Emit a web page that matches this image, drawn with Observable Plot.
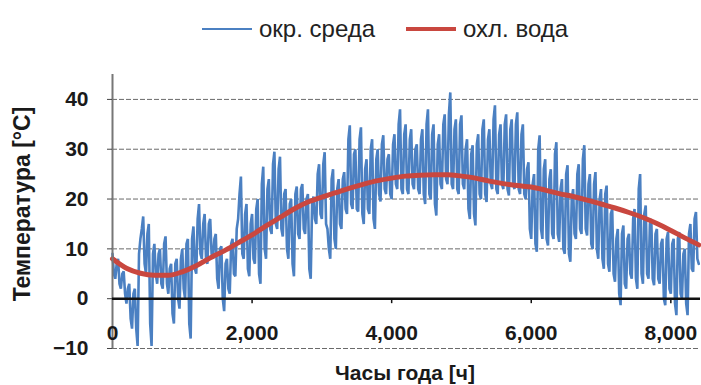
<!DOCTYPE html>
<html><head><meta charset="utf-8">
<script src="https://cdn.jsdelivr.net/npm/d3@7"></script>
<script src="https://cdn.jsdelivr.net/npm/@observablehq/plot@0.6"></script>
<style>
html,body{margin:0;padding:0;background:#fff;}
#wrap{position:relative;width:701px;height:385px;overflow:hidden;font-family:"Liberation Sans",Arial,sans-serif;color:#1a1a1a;}
#chart{position:absolute;left:0;top:0;}
.leg{position:absolute;top:14px;display:flex;align-items:center;font-family:"Liberation Sans",Arial,sans-serif;font-size:24px;line-height:30px;white-space:nowrap;color:#222;}
.sw{display:inline-block;margin-right:7px;}
.ytitle{position:absolute;left:22px;top:204px;transform:translate(-50%,-50%) rotate(-90deg);font-weight:bold;font-size:23px;white-space:nowrap;}
.xtitle{position:absolute;left:405px;top:373px;transform:translate(-50%,-50%);font-weight:bold;font-size:21px;white-space:nowrap;}
</style></head>
<body>
<div id="wrap">
  <div id="chart"></div>
  <div class="leg" id="leg1" style="left:202px"></div>
  <div class="leg" id="leg2" style="left:406px"></div>
  <div class="ytitle" id="ytitle"></div>
  <div class="xtitle" id="xtitle"></div>
</div>
<script>
// ---- data ----
const seriesNames = ["окр. среда", "охл. вода"];
const seriesColors = ["#4b80c2", "#c9473f"];
const yTitle = "Температура [°C]";
const xTitle = "Часы года [ч]";
const yTicks = [-10, 0, 10, 20, 30, 40];
const xTicks = [0, 2000, 4000, 6000, 8000];
const gridLines = [-10, 10, 20, 30, 40];
const ambientStep = 40; // hours between readings
// ambient temperature (окр. среда), read at 0, 40, 80, ... h
const ambientTemps = [
  9, 4, 8, 2, 5.5,
  -1, 3, -6, 2, -9.5,
  12, 16.5, 5, 15, -9.5,
  11, 3, 10, 2, 12.5,
  1, 7, -5, 8, -2,
  10, 0, 12, -8, 14.5,
  5, 19, 8, 17, 7,
  16, 8, 13, 2, 10.5,
  -2.5, 8, 1, 12, 4.5,
  16, 24.5, 8, 19, 4.5,
  17, 7, 20, 3, 26.5,
  8, 24, 13, 29.5, 14,
  28.5, 12.5, 22, 8, 20,
  4.5, 22.5, 12, 23, 13,
  21, 4, 20.5, 15, 27,
  16, 29.4, 14, 8, 26,
  10, 24, 14, 25.4, 17,
  34.8, 18, 30, 17.5, 34.4,
  15, 28, 17, 32, 14,
  30, 19.5, 32.8, 21, 29,
  20, 33, 22, 38, 21,
  35, 21, 34, 22, 31,
  21, 34, 19, 38, 20,
  35, 16.7, 33, 22, 37,
  23, 41.4, 22, 36, 21,
  36.8, 22, 32, 16, 30.8,
  14.7, 33, 20, 36, 19.4,
  34, 22, 38.8, 21, 35,
  22, 37, 20.7, 36, 22,
  37.4, 21, 35, 20, 27.4,
  12, 25, 9.4, 32.8, 12,
  28, 10.7, 26, 12, 31.4,
  11.4, 24, 9, 26.8, 7.4,
  22, 12, 27, 13, 30.8,
  12.7, 25, 10, 25.4, 8,
  22, 6, 22.7, 5.4, 18,
  3.4, 14, -1.3, 14.7, 2,
  13, 4, 18, 2, 25,
  3, 18.7, 4, 16, 2.7,
  14, 3, 12, -1.3, 13.4,
  1, 12, -3.3, 13.4, 0,
  10, -3.3, 15, 5.4, 17.4,
  7
];
// ambient temperature, readings in between, at 20, 60, 100, ... h
const ambientTempsMid = [
  5, 7, 3, 5, 1,
  2, -4, 1, -6, 9,
  14, 7, 13, -5, 9,
  5, 9, 3, 11, 3,
  6, -3, 7, 0, 8,
  2, 11, -5, 12, 6,
  16, 9, 15, 8, 15,
  9, 12, 4, 10, 0,
  7, 2, 11, 5, 14,
  21, 9, 17, 6, 15,
  8, 18, 5, 23, 10,
  22, 14, 27, 15, 26,
  14, 21, 10, 19, 7,
  21, 13, 22, 14, 20,
  6, 19, 16, 25, 17,
  27, 15, 10, 24, 12,
  22, 15, 24, 18, 32,
  19, 29, 18, 32, 17,
  26, 18, 30, 16, 28,
  21, 31, 22, 28, 21,
  31, 23, 35, 22, 33,
  22, 32, 23, 30, 22,
  32, 21, 35, 21, 33,
  19, 31, 23, 35, 24,
  37, 23, 34, 22, 35,
  23, 30, 18, 29, 17,
  31, 21, 34, 21, 32,
  23, 36, 22, 33, 23,
  35, 22, 34, 23, 35,
  22, 33, 21, 26, 14,
  23, 11, 30, 14, 26,
  12, 24, 13, 29, 13,
  22, 10, 25, 9, 20,
  13, 25, 14, 28, 14,
  23, 11, 23, 10, 20,
  8, 21, 7, 17, 5,
  12, 1, 13, 3, 12,
  5, 16, 4, 22, 5,
  17, 5, 15, 4, 13,
  4, 11, 0, 12, 2,
  11, -1, 12, 1, 9,
  -1, 13, 6, 16, 8
];
// cooling water (охл. вода)
const coolHours = [0,200,400,600,800,1000,1200,1400,1600,1800,2000,2200,2400,2600,2800,3000,3200,3400,3600,3800,4000,4200,4400,4600,4800,5000,5200,5400,5600,5800,6000,6200,6400,6600,6800,7000,7200,7400,7600,7800,8000,8200,8400];
const coolTemps = [8,6.1,5.1,4.7,4.7,5.4,6.6,8.2,9.6,11.2,12.8,14.6,16.3,18,19.4,20.4,21.3,22.2,23,23.7,24.2,24.6,24.8,24.9,24.9,24.6,24.2,23.6,23.1,22.7,22.4,21.8,21.1,20.5,19.8,19,18.2,17.3,16.3,15.1,13.7,12.2,10.8];

// ---- build ----
const ambient = [];
ambientTemps.forEach((t, i) => {
  ambient.push({h: i * ambientStep, t});
  if (i < ambientTempsMid.length) ambient.push({h: i * ambientStep + ambientStep / 2, t: ambientTempsMid[i]});
});
const cool = coolHours.map((h, i) => ({h, t: coolTemps[i]}));
const fmt = d3.format(",");

const plot = Plot.plot({
  width: 701, height: 385,
  marginLeft: 112, marginRight: 1, marginTop: 74, marginBottom: 37,
  style: {fontFamily: "'Liberation Sans', Arial, sans-serif", fontWeight: "bold", color: "#1a1a1a", background: "transparent"},
  x: {domain: [0, 8425], axis: null},
  y: {domain: [-10, 45], axis: null},
  marks: [
    Plot.ruleY(gridLines, {stroke: "#6a6a6a", strokeWidth: 1, strokeDasharray: "5,2"}),
    Plot.line(ambient, {x: "h", y: "t", stroke: seriesColors[0], strokeWidth: 2.6, strokeLinejoin: "miter", strokeMiterlimit: 2}),
    Plot.line(cool, {x: "h", y: "t", stroke: seriesColors[1], strokeWidth: 5, curve: "monotone-x"}),
    Plot.ruleX([0], {stroke: "#777", strokeWidth: 2}),
    Plot.ruleY([0], {stroke: "#111", strokeWidth: 2.5}),
    Plot.ruleX(xTicks.filter(d => d > 0), {x: d => d, y1: 0, y2: -1, stroke: "#111", strokeWidth: 1.5}),
    Plot.axisY({ticks: yTicks, tickSize: 5, tickPadding: 19, fontSize: 21, fontWeight: "bold", stroke: "#444", label: null}),
    Plot.text(xTicks, {x: d => d, frameAnchor: "bottom", dy: -15, text: d => fmt(d), fontSize: 21, fontWeight: "bold", lineAnchor: "middle", fill: "#1a1a1a"})
  ]
});
document.getElementById("chart").appendChild(plot);

function legItem(el, color, h, name) {
  const sw = document.createElement("span");
  sw.className = "sw";
  sw.style.width = "50px"; sw.style.height = h + "px"; sw.style.background = color;
  el.appendChild(sw);
  el.appendChild(document.createTextNode(name));
}
legItem(document.getElementById("leg1"), seriesColors[0], 1.5, seriesNames[0]);
legItem(document.getElementById("leg2"), seriesColors[1], 4, seriesNames[1]);
document.getElementById("ytitle").textContent = yTitle;
document.getElementById("xtitle").textContent = xTitle;
</script>
</body></html>
